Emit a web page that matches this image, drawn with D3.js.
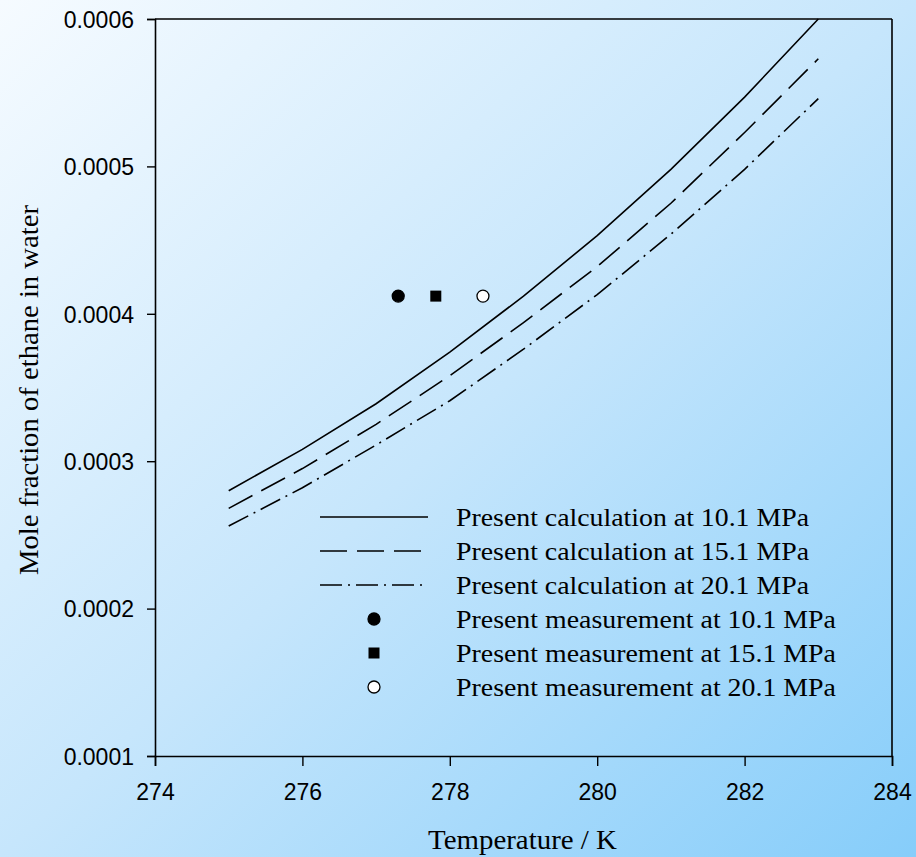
<!DOCTYPE html>
<html>
<head>
<meta charset="utf-8">
<script src="https://cdn.jsdelivr.net/npm/d3@7"></script>
<style>
  html, body { margin: 0; padding: 0; }
  svg { display: block; }
</style>
</head>
<body>
<div id="chart"></div>
<script>
// 온도 (K)
const temps = [275, 276, 277, 278, 279, 280, 281, 282, 283];

// 계산값 (압력별)
const calc101 = [0.000280, 0.000308, 0.000339, 0.000374, 0.000412, 0.000453, 0.000498, 0.000547, 0.000600];
const calc151 = [0.000268, 0.000295, 0.000325, 0.000358, 0.000394, 0.000432, 0.000475, 0.000523, 0.000573];
const calc201 = [0.000256, 0.000282, 0.000311, 0.000341, 0.000376, 0.000413, 0.000454, 0.000498, 0.000546];

// 측정값
const measT = [277.30, 277.81, 278.45];
const measX = [0.000412, 0.000412, 0.000412];

const xTicks = [274, 276, 278, 280, 282, 284];
const yTicks = [0.0001, 0.0002, 0.0003, 0.0004, 0.0005, 0.0006];

const legendLabels = [
  "Present calculation at 10.1 MPa",
  "Present calculation at 15.1 MPa",
  "Present calculation at 20.1 MPa",
  "Present measurement at 10.1 MPa",
  "Present measurement at 15.1 MPa",
  "Present measurement at 20.1 MPa"
];

const width = 916, height = 857;
const plotLeft = 155, plotRight = 892, plotTop = 19, plotBottom = 756;
const serif = "'Liberation Serif', 'Times New Roman', serif";

const svg = d3.select("#chart").append("svg")
  .attr("width", width)
  .attr("height", height);

// 배경 그라데이션
const grad = svg.append("defs").append("linearGradient")
  .attr("id", "bg")
  .attr("x1", "0%").attr("y1", "0%")
  .attr("x2", "100%").attr("y2", "100%");
grad.append("stop").attr("offset", "0%").attr("stop-color", "#f6fbff");
grad.append("stop").attr("offset", "50%").attr("stop-color", "#c6e6fc");
grad.append("stop").attr("offset", "100%").attr("stop-color", "#86cdfa");

svg.append("rect")
  .attr("width", width).attr("height", height)
  .attr("fill", "url(#bg)");

const x = d3.scaleLinear().domain([274, 284]).range([plotLeft, plotRight]);
const y = d3.scaleLinear().domain([0.0001, 0.0006]).range([plotBottom, plotTop]);

// 축
const xAxis = svg.append("g")
  .attr("transform", `translate(0,${plotBottom})`)
  .call(d3.axisBottom(x).tickValues(xTicks).tickSize(10).tickPadding(18).tickFormat(d3.format("d")));
const yAxis = svg.append("g")
  .attr("transform", `translate(${plotLeft},0)`)
  .call(d3.axisLeft(y).tickValues(yTicks).tickSize(8).tickPadding(13).tickFormat(d3.format(".4f")));

[xAxis, yAxis].forEach(g => {
  g.select(".domain").attr("stroke", "#000").attr("stroke-width", 1.6);
  g.selectAll(".tick line").attr("stroke", "#000").attr("stroke-width", 1.4);
  g.selectAll(".tick text")
    .attr("fill", "#000")
    .style("font-family", "'Liberation Sans', Arial, sans-serif")
    .style("font-size", "23px");
});
yAxis.selectAll(".tick text").attr("dy", "0.36em");

// 위, 오른쪽 테두리
svg.append("line")
  .attr("x1", plotLeft).attr("x2", plotRight).attr("y1", plotTop).attr("y2", plotTop)
  .attr("stroke", "#000").attr("stroke-width", 1.6);
svg.append("line")
  .attr("x1", plotRight).attr("x2", plotRight).attr("y1", plotTop).attr("y2", plotBottom)
  .attr("stroke", "#000").attr("stroke-width", 1.6);

// 계산 곡선
const line = d3.line()
  .x(d => x(d[0]))
  .y(d => y(d[1]));

const series = [
  { values: calc101, dash: null },
  { values: calc151, dash: "27,10" },
  { values: calc201, dash: "22,6,2,6" }
];

series.forEach(s => {
  svg.append("path")
    .datum(temps.map((t, i) => [t, s.values[i]]))
    .attr("d", line)
    .attr("fill", "none")
    .attr("stroke", "#000")
    .attr("stroke-width", 1.6)
    .attr("stroke-dasharray", s.dash);
});

// 측정 점
const markerStyles = [
  { type: "circle", fill: "#000" },
  { type: "square", fill: "#000" },
  { type: "circle", fill: "#fff" }
];

function drawMarker(g, cx, cy, style) {
  if (style.type === "circle") {
    g.append("circle")
      .attr("cx", cx).attr("cy", cy).attr("r", 6)
      .attr("fill", style.fill)
      .attr("stroke", "#000").attr("stroke-width", 1.3);
  } else {
    g.append("rect")
      .attr("x", cx - 5.5).attr("y", cy - 5.5)
      .attr("width", 11).attr("height", 11)
      .attr("fill", style.fill);
  }
}

measT.forEach((t, i) => drawMarker(svg, x(t), y(measX[i]), markerStyles[i]));

// 범례
const legend = svg.append("g");
const rowY = [517, 551, 585, 619, 653, 687];
legendLabels.forEach((label, i) => {
  if (i < 3) {
    legend.append("line")
      .attr("x1", 320).attr("x2", 428)
      .attr("y1", rowY[i]).attr("y2", rowY[i])
      .attr("stroke", "#000").attr("stroke-width", 1.6)
      .attr("stroke-dasharray", series[i].dash);
  } else {
    drawMarker(legend, 374, rowY[i], markerStyles[i - 3]);
  }
  legend.append("text")
    .attr("x", 456).attr("y", rowY[i])
    .attr("dy", "0.35em")
    .attr("textLength", i < 3 ? 353 : 380)
    .attr("lengthAdjust", "spacingAndGlyphs")
    .style("font-family", serif)
    .style("font-size", "25px")
    .text(label);
});

// 축 제목
svg.append("text")
  .attr("x", 428)
  .attr("y", 849)
  .attr("textLength", 189)
  .attr("lengthAdjust", "spacingAndGlyphs")
  .style("font-family", serif)
  .style("font-size", "27px")
  .text("Temperature / K");

svg.append("text")
  .attr("transform", `translate(38,575) rotate(-90)`)
  .attr("textLength", 370)
  .attr("lengthAdjust", "spacingAndGlyphs")
  .style("font-family", serif)
  .style("font-size", "27px")
  .text("Mole fraction of ethane in water");
</script>
</body>
</html>
